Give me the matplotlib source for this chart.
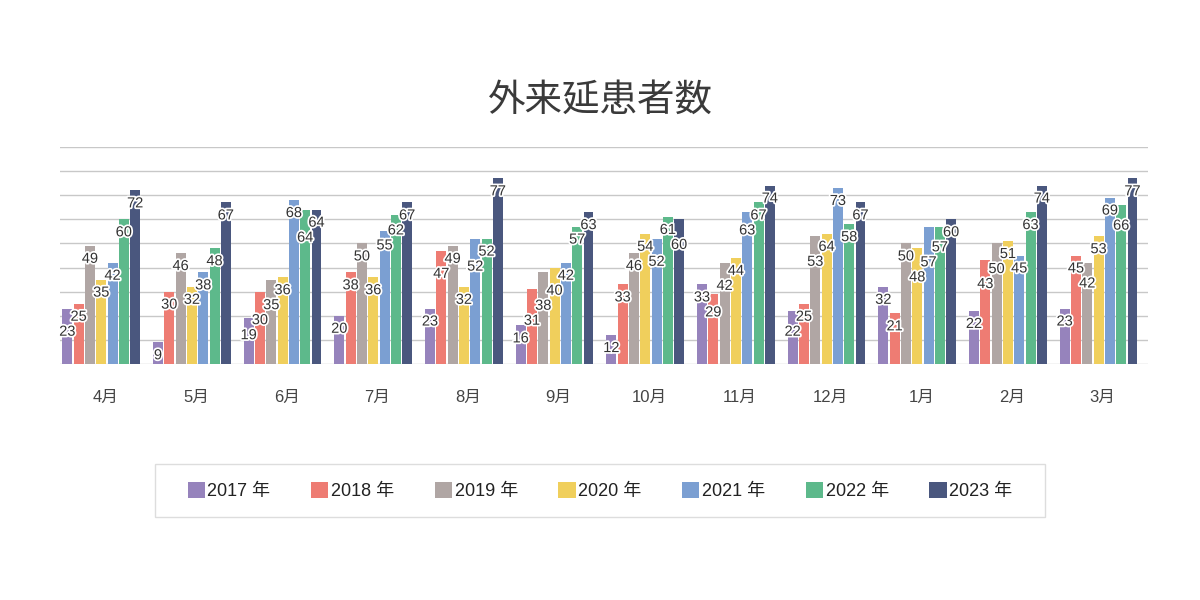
import matplotlib
matplotlib.use("Agg")
import matplotlib.pyplot as plt
import matplotlib.patheffects as pe
from matplotlib.patches import Rectangle, Patch
import numpy as np

plt.rcParams['font.family'] = ['Liberation Sans', 'Noto Sans CJK JP', 'DejaVu Sans']

months = ['4月', '5月', '6月', '7月', '8月', '9月', '10月', '11月', '12月', '1月', '2月', '3月']
series_names = ['2017 年', '2018 年', '2019 年', '2020 年', '2021 年', '2022 年', '2023 年']
v2017 = [23, 9, 19, 20, 23, 16, 12, 33, 22, 32, 22, 23]
v2018 = [25, 30, 30, 38, 47, 31, 33, 29, 25, 21, 43, 45]
v2019 = [49, 46, 35, 50, 49, 38, 46, 42, 53, 50, 50, 42]
v2020 = [35, 32, 36, 36, 32, 40, 54, 44, 54, 48, 51, 53]
v2021 = [42, 38, 68, 55, 52, 42, 52, 63, 73, 57, 45, 69]
v2022 = [60, 48, 64, 62, 52, 57, 61, 67, 58, 57, 63, 66]
v2023 = [72, 67, 64, 67, 77, 63, 60, 74, 67, 60, 74, 77]
# label text shown in the reference (12月 2020 shows "64" over a bar of ~54)
label_overrides = {(3, 8): '64'}

series = [v2017, v2018, v2019, v2020, v2021, v2022, v2023]
colors = ['#9683BC', '#EE7C73', '#B0A6A4', '#F0CF5C', '#7B9FD2', '#5DB98B', '#4A577E']

fig = plt.figure(figsize=(12, 6), dpi=100)
ax = fig.add_axes([0.05, 1 - 364 / 600, (1148 - 60) / 1200, (364 - 147) / 600])

n = len(series)
x = np.arange(len(months))
slot = 0.1247
width = 0.11
shift = -0.045
ax.set_xlim(-0.5, len(months) - 0.5)
ax.set_ylim(0, 90)

def bar_x(j):
    return x + (j - (n - 1) / 2) * slot + shift

for j, (vals, c) in enumerate(zip(series, colors)):
    ax.bar(bar_x(j), vals, width=width, color=c, zorder=2)

# data labels with simple vertical collision avoidance inside each month group
H = 14.0       # min vertical separation in pixels
OFF = 13.0     # default distance below bar top
base_disp = ax.transData.transform((0, 0))[1]
for i in range(len(months)):
    vals = [series[j][i] for j in range(n)]
    tops = [ax.transData.transform((0, v))[1] for v in vals]
    ys = [t - OFF for t in tops]
    for _ in range(3):
        for j in range(1, n):
            if abs(ys[j] - ys[j - 1]) < H:
                if vals[j - 1] <= vals[j]:
                    ys[j - 1] = ys[j] - H - 1
                else:
                    ys[j] = ys[j - 1] - H - 1
    for j in range(n):
        ys[j] = max(ys[j], base_disp + 8)
        bx = bar_x(j)[i]
        txt = label_overrides.get((j, i), str(vals[j]))
        t = ax.annotate(txt, (bx, vals[j]), xytext=(0, ys[j] - tops[j]),
                        textcoords='offset pixels', ha='center', va='center',
                        fontsize=10.5, color='#333333', zorder=5)
        t.set_path_effects([pe.withStroke(linewidth=2.5, foreground='white')])

ax.set_yticks(np.arange(0, 91, 10))
ax.yaxis.grid(True, color='#c8c8c8', linewidth=1.0, zorder=0)
ax.set_axisbelow(True)
ax.tick_params(axis='y', length=0, labelleft=False)
ax.tick_params(axis='x', length=0, pad=19, labelsize=12, labelcolor='#444444')
ax.set_xticks(x)
ax.set_xticklabels(months)
for s in ax.spines.values():
    s.set_visible(False)

fig.text(0.5, 1 - 100 / 600, '外来延患者数', ha='center', va='center', fontsize=27,
         color='#3a3a3a', family=['Noto Sans CJK JP', 'DejaVu Sans'])

# legend box
fig.patches.append(Rectangle((155 / 1200, 1 - 517 / 600), 890 / 1200, 53 / 600,
                             transform=fig.transFigure, fill=False,
                             edgecolor='#dddddd', linewidth=1))
handles = [Patch(facecolor=c, edgecolor='none') for c in colors]
fig.legend(handles, series_names, loc='center', bbox_to_anchor=(0.5, 1 - 491 / 600),
           ncol=7, frameon=False, handlelength=0.95, handleheight=0.95,
           handletextpad=0.15, columnspacing=2.25, labelcolor='#222222',
           prop={'family': ['Liberation Sans', 'Noto Sans CJK JP'], 'size': 13})

fig.savefig('out.png', dpi=100, facecolor='white')
